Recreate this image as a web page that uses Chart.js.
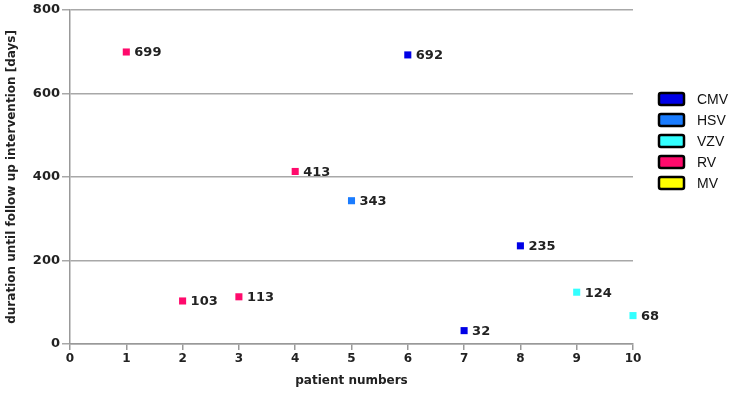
<!DOCTYPE html>
<html>
<head>
<meta charset="utf-8">
<script src="https://cdn.jsdelivr.net/npm/chart.js@4/dist/chart.umd.min.js"></script>
<style>
  html, body { margin: 0; padding: 0; background: #fff; }
  #wrap { width: 740px; height: 402px; position: relative; }
</style>
</head>
<body>
<div id="wrap"><canvas id="myChart"></canvas></div>
<script>
"use strict";

// data per virus group: patient number / days until follow up
const groups = ['CMV', 'HSV', 'VZV', 'RV', 'MV'];
const colors = ['#0000e6', '#1a7cff', '#33ffff', '#ff0a6c', '#ffff00'];
const cmvPatients = [6, 7, 8];
const cmvDays = [692, 32, 235];
const hsvPatients = [5];
const hsvDays = [343];
const vzvPatients = [9, 10];
const vzvDays = [124, 68];
const rvPatients = [1, 2, 3, 4];
const rvDays = [699, 103, 113, 413];
const mvPatients = [];
const mvDays = [];
const xTicks = [0, 1, 2, 3, 4, 5, 6, 7, 8, 9, 10];
const yTicks = [0, 200, 400, 600, 800];

const allPatients = [cmvPatients, hsvPatients, vzvPatients, rvPatients, mvPatients];
const allDays = [cmvDays, hsvDays, vzvDays, rvDays, mvDays];

function toPoints(px, py) {
    return px.map((p, i) => ({ x: p, y: py[i] }));
}

const datasets = groups.map((g, i) => ({
    label: g,
    data: toPoints(allPatients[i], allDays[i]),
    backgroundColor: colors[i],
    borderColor: colors[i],
    pointStyle: 'rect',
    pointRadius: 5,
    pointHoverRadius: 5,
    borderWidth: 0,
    clip: false
}));

// value labels next to each point
const valueLabels = {
    id: 'valueLabels',
    afterDatasetsDraw(chart) {
        const ctx = chart.ctx;
        ctx.save();
        ctx.font = 'bold 13px "DejaVu Sans"';
        ctx.fillStyle = '#222';
        ctx.textBaseline = 'middle';
        chart.data.datasets.forEach((ds, i) => {
            chart.getDatasetMeta(i).data.forEach((pt, j) => {
                ctx.fillText(String(ds.data[j].y), pt.x + 8, pt.y + 1);
            });
        });
        ctx.restore();
    }
};

// legend box on the right, black bordered swatches
const sideLegend = {
    id: 'sideLegend',
    afterDraw(chart) {
        const ctx = chart.ctx;
        ctx.save();
        ctx.font = '14px "Liberation Sans"';
        ctx.textBaseline = 'middle';
        chart.data.datasets.forEach((ds, i) => {
            const y = 99 + i * 21;
            ctx.fillStyle = ds.backgroundColor;
            ctx.strokeStyle = '#000';
            ctx.lineWidth = 2.5;
            ctx.beginPath();
            ctx.roundRect(659, y - 6, 25, 12, 2);
            ctx.fill();
            ctx.stroke();
            ctx.fillStyle = '#111';
            ctx.fillText(ds.label, 697, y + 1);
        });
        ctx.restore();
    }
};

Chart.defaults.font.family = '"DejaVu Sans"';

new Chart(document.getElementById('myChart').getContext('2d'), {
    type: 'scatter',
    data: { datasets: datasets },
    plugins: [valueLabels, sideLegend],
    options: {
        responsive: true,
        maintainAspectRatio: false,
        animation: false,
        layout: { padding: { top: 7, right: 107, left: 5, bottom: 14 } },
        plugins: {
            legend: { display: false },
            tooltip: { enabled: false }
        },
        scales: {
            x: {
                type: 'linear',
                min: 0,
                max: 10,
                afterBuildTicks: (s) => { s.ticks = xTicks.map(v => ({ value: v })); },
                afterFit: (s) => { s.height = 44; },
                grid: { drawOnChartArea: false, color: '#999', lineWidth: 1.5, tickLength: 6 },
                border: { color: '#999', width: 1.5 },
                ticks: { color: '#222', font: { size: 12, weight: 'bold' }, padding: 2 },
                title: {
                    display: true,
                    text: 'patient numbers',
                    color: '#222',
                    font: { size: 12, weight: 'bold' },
                    padding: { top: 10, bottom: 0 }
                }
            },
            y: {
                min: 0,
                max: 800,
                afterBuildTicks: (s) => { s.ticks = yTicks.map(v => ({ value: v })); },
                afterFit: (s) => { s.width = 65; },
                grid: { color: '#a8a8a8', lineWidth: 1.5, tickLength: 8 },
                border: { color: '#999', width: 1.5 },
                ticks: { color: '#222', font: { size: 13, weight: 'bold' }, padding: 2 },
                title: {
                    display: true,
                    text: 'duration until follow up intervention [days]',
                    color: '#222',
                    font: { size: 12, weight: 'bold' },
                    padding: { top: 0, bottom: 4 }
                }
            }
        }
    }
});
</script>
</body>
</html>
